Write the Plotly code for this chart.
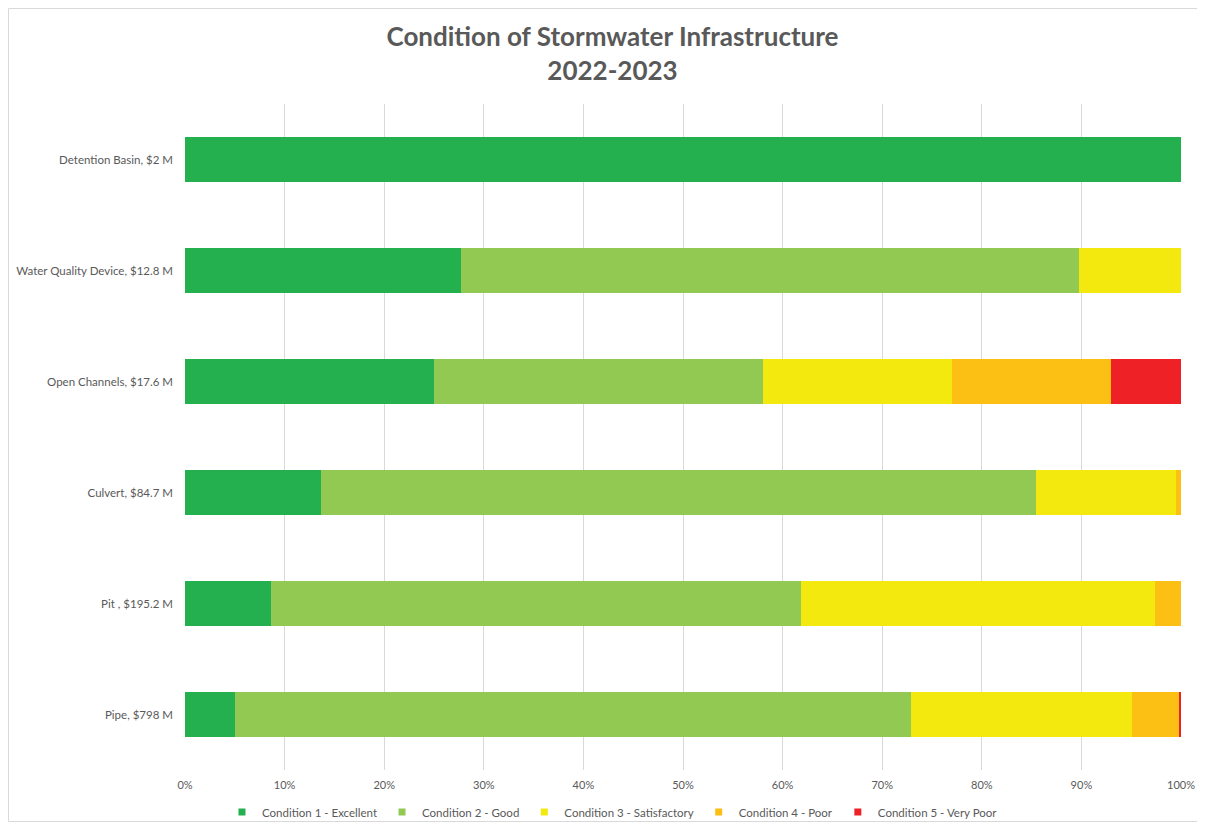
import plotly.graph_objects as go

categories = [
    "Detention Basin, $2 M",
    "Water Quality Device, $12.8 M",
    "Open Channels, $17.6 M",
    "Culvert, $84.7 M",
    "Pit , $195.2 M",
    "Pipe, $798 M",
]
series_names = [
    "Condition 1 - Excellent",
    "Condition 2 - Good",
    "Condition 3 - Satisfactory",
    "Condition 4 - Poor",
    "Condition 5 - Very Poor",
]
cond1 = [100.0, 27.7, 25.0, 13.7, 8.6, 5.0]
cond2 = [0.0, 62.1, 33.0, 71.7, 53.2, 67.9]
cond3 = [0.0, 10.2, 19.0, 14.1, 35.6, 22.2]
cond4 = [0.0, 0.0, 16.0, 0.5, 2.6, 4.7]
cond5 = [0.0, 0.0, 7.0, 0.0, 0.0, 0.2]
colors = ["#25B050", "#92C953", "#F3E90F", "#FCC015", "#EE2127"]
x_ticks = [0, 10, 20, 30, 40, 50, 60, 70, 80, 90, 100]
x_tick_labels = [f"{v}%" for v in x_ticks]

FONT = "Lato"
GREY = "#595959"

W, H = 1197, 814
ML, MR, MT, MB = 177, 24, 96, 52
PW, PH = W - ML - MR, H - MT - MB

fig = go.Figure()
for name, vals, col in zip(series_names, [cond1, cond2, cond3, cond4, cond5], colors):
    fig.add_trace(go.Bar(
        y=categories, x=vals, name=name, orientation="h",
        marker=dict(color=col, line=dict(width=0)),
        showlegend=False, hoverinfo="x+y+name",
    ))
    fig.add_trace(go.Scatter(
        x=[None], y=[None], mode="markers", name=name,
        marker=dict(symbol="square", size=7, color=col),
        showlegend=True,
    ))

fig.update_layout(
    width=W, height=H, autosize=False,
    barmode="stack", bargap=0.6,
    plot_bgcolor="white", paper_bgcolor="white",
    margin=dict(l=ML, r=MR, t=MT, b=MB, autoexpand=False),
    font=dict(family=FONT, size=11, color=GREY),
    title=dict(
        text="<b>Condition of Stormwater Infrastructure<br>2022-2023</b>",
        x=0.505, xref="container", xanchor="center",
        y=1 - 38 / H, yref="container", yanchor="middle",
        font=dict(family=FONT, size=26, color=GREY),
    ),
    xaxis=dict(
        range=[0, 100], tickmode="array", tickvals=x_ticks, ticktext=x_tick_labels,
        showgrid=True, gridcolor="#D9D9D9", gridwidth=1,
        zeroline=False, showline=False, ticks="", automargin=False,
        ticklabelstandoff=7,
        tickfont=dict(family=FONT, size=11, color=GREY),
    ),
    yaxis=dict(
        autorange="reversed", showgrid=False, zeroline=False, automargin=False,
        showline=False, ticks="", ticklabelstandoff=11,
        tickfont=dict(family=FONT, size=11.5, color=GREY),
    ),
    legend=dict(
        orientation="h", xref="container", x=0.505, xanchor="center",
        yref="container", y=1 - 804 / H, yanchor="middle",
        font=dict(family=FONT, size=11.5, color=GREY),
        itemwidth=30, traceorder="normal",
        bgcolor="rgba(0,0,0,0)",
    ),
    shapes=[dict(
        type="rect", xref="paper", yref="paper",
        x0=(-ML + 0.5) / PW, x1=(W - ML - 1.5) / PW,
        y0=(-MB + 0.5) / PH, y1=(PH + MT - 0.5) / PH,
        line=dict(color="#D9D9D9", width=1), fillcolor="rgba(0,0,0,0)",
        layer="below",
    )],
)

fig.write_html("out.html")
